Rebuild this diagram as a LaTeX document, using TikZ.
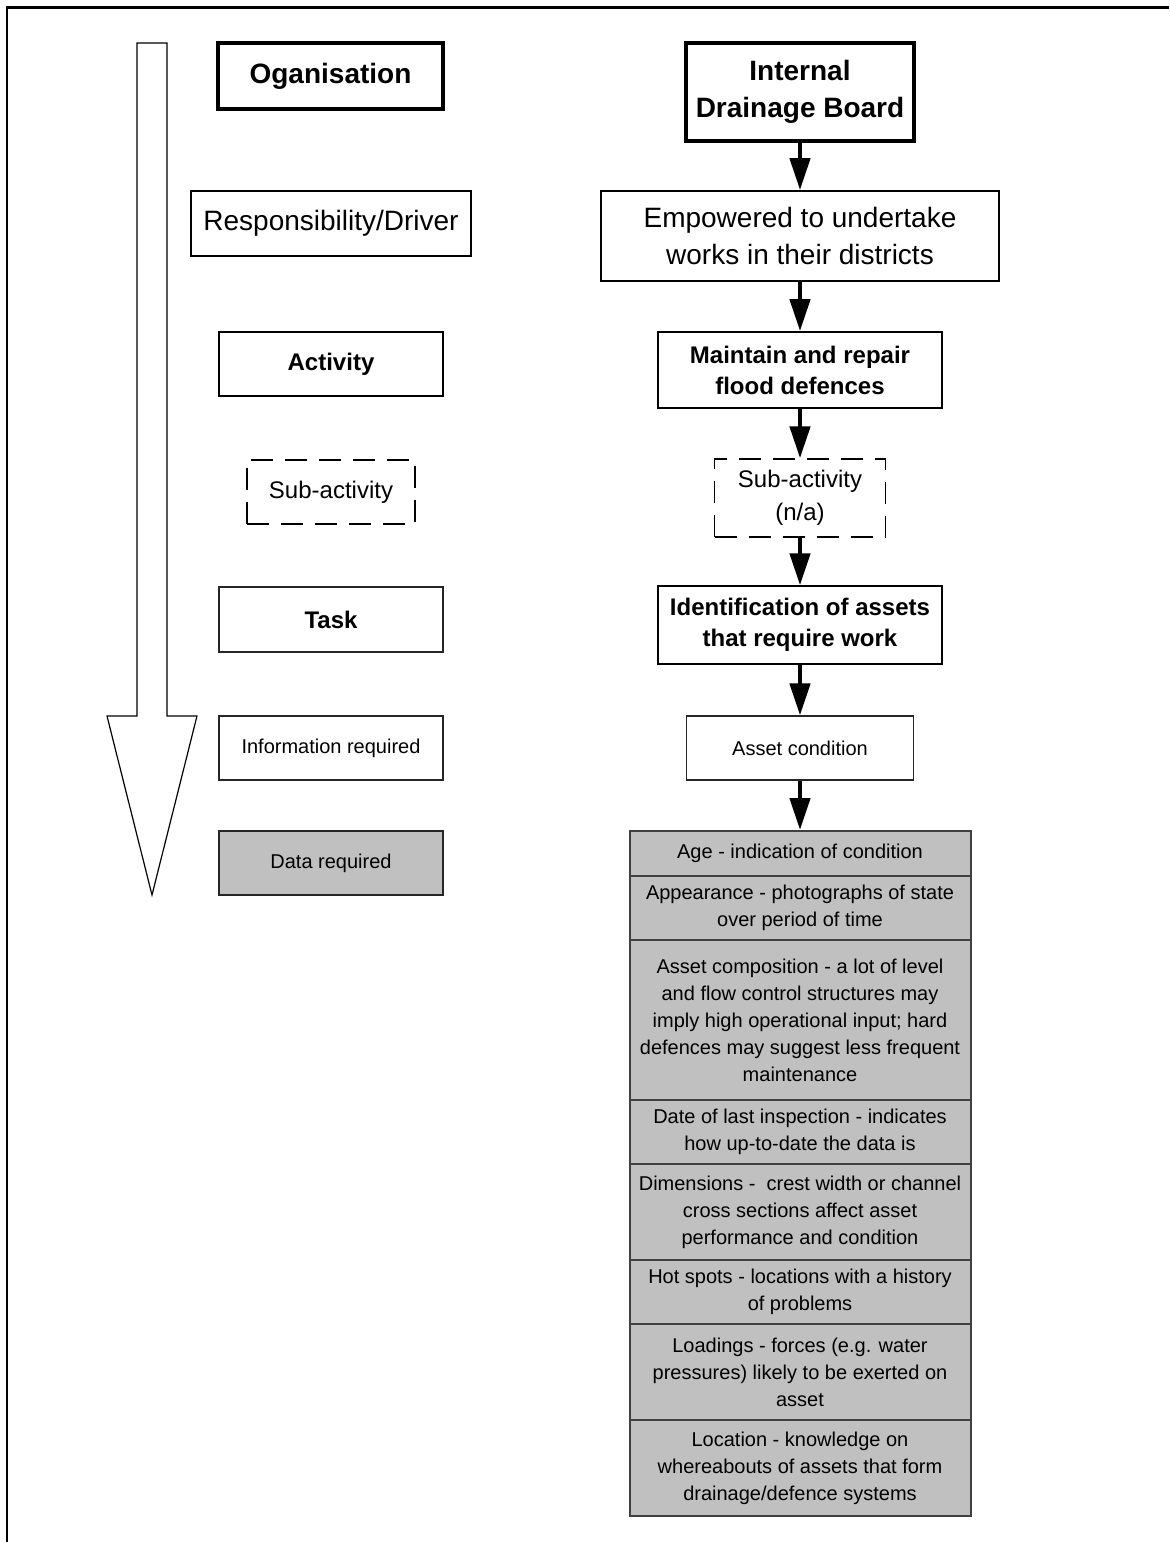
\documentclass[tikz,border=0pt]{standalone}
\usepackage{fontspec}
\setmainfont{Liberation Sans}
\usetikzlibrary{arrows.meta}
\definecolor{cellgray}{HTML}{C0C0C0}
\definecolor{rulegray}{HTML}{404040}

\begin{document}
\begin{tikzpicture}[x=0.5pt,y=-0.5pt,
  box/.style={draw, line width=0.9pt, inner sep=0pt, align=center},
  heavybox/.style={box, line width=1.8pt},
  lightbox/.style={box, line width=0.6pt, draw=black!85},
  dashbox/.style={box, line width=0.7pt, dash pattern=on 11pt off 6pt},
  cell/.style={draw=rulegray, fill=cellgray, line width=1pt, inner sep=0pt,
    align=center, minimum width=170.5pt, font=\fontsize{10}{13.5}\selectfont},
  conn/.style={line width=2.3pt, -{Triangle[length=16pt,width=10pt]}},
  big/.style={font=\fontsize{14}{18.5}\selectfont},
  bigbold/.style={font=\fontsize{14}{18.5}\selectfont\bfseries},
  midbold/.style={font=\fontsize{12}{15.5}\selectfont\bfseries},
  mid/.style={font=\fontsize{12}{16.5}\selectfont},
  small/.style={font=\fontsize{10}{13.5}\selectfont},
]
\useasboundingbox (0,0) rectangle (1169,1542);

% page frame (top and left edges)
\draw[line width=1.3pt] (7,1542) -- (7,7.5) -- (1169,7.5);

% hollow downward arrow
\draw[line width=0.6pt, fill=white]
  (137,43) -- (167,43) -- (167,716) -- (197,716) -- (152,895)
  -- (107,716) -- (137,716) -- cycle;

% legend column
\node[heavybox, bigbold, minimum width=112.5pt, minimum height=33pt] (org) at (330.5,76) {Oganisation};
\node[box, big, minimum width=140pt, minimum height=32.5pt] (resp) at (331,223.5) {Responsibility/Driver};
\node[box, midbold, minimum width=112pt, minimum height=32pt] (act) at (331,364) {Activity};
\node[dashbox, mid, minimum width=84pt, minimum height=32pt] (subl) at (331,492) {Sub-activity};
\node[lightbox, midbold, minimum width=112pt, minimum height=32.5pt] (task) at (331,619.5) {Task};
\node[lightbox, small, minimum width=112pt, minimum height=32pt] (info) at (331,748) {Information required};
\node[lightbox, small, fill=cellgray, minimum width=112pt, minimum height=32pt] (data) at (331,863) {Data required};

% flow column
\node[heavybox, bigbold, minimum width=114pt, minimum height=49pt] (idb) at (800,92) {Internal\\Drainage Board};
\node[box, big, minimum width=199pt, minimum height=45pt] (emp) at (800,236) {Empowered to undertake\\works in their districts};
\node[box, midbold, minimum width=142pt, minimum height=38pt] (mnt) at (800,370) {Maintain and repair\\flood defences};
\node[dashbox, mid, minimum width=85.5pt, minimum height=39pt] (subr) at (800,498) {Sub-activity\\(n/a)};
\node[box, line width=0.7pt, midbold, minimum width=142pt, minimum height=39pt] (ident) at (800,625) {Identification of assets\\that require work};
\node[lightbox, small, minimum width=113.5pt, minimum height=32pt] (cond) at (800,748) {Asset condition};

% data table
\node[cell, minimum height=22.5pt] (c1) at (800,853.5) {Age - indication of condition};
\node[cell, minimum height=32pt] (c2) at (800,908) {Appearance - photographs of state\\over period of time};
\node[cell, minimum height=80pt] (c3) at (800,1020) {Asset composition - a lot of level\\and flow control structures may\\imply high operational input; hard\\defences may suggest less frequent\\maintenance};
\node[cell, minimum height=32pt] (c4) at (800,1132) {Date of last inspection - indicates\\how up-to-date the data is};
\node[cell, minimum height=48pt] (c5) at (800,1212) {Dimensions -\ \ crest width or channel\\cross sections affect asset\\performance and condition};
\node[cell, minimum height=32pt] (c6) at (800,1292) {Hot spots - locations with a history\\of problems};
\node[cell, minimum height=48pt] (c7) at (800,1372) {Loadings - forces (e.g. water\\pressures) likely to be exerted on\\asset};
\node[cell, minimum height=48pt] (c8) at (800,1468) {Location - knowledge on\\whereabouts of assets that form\\drainage/defence systems};

% connectors
\draw[conn] (idb.south) -- (emp.north);
\draw[conn] (emp.south) -- (mnt.north);
\draw[conn] (mnt.south) -- (subr.north);
\draw[conn] (subr.south) -- (ident.north);
\draw[conn] (ident.south) -- (cond.north);
\draw[conn] (cond.south) -- (c1.north);
\end{tikzpicture}
\end{document}
